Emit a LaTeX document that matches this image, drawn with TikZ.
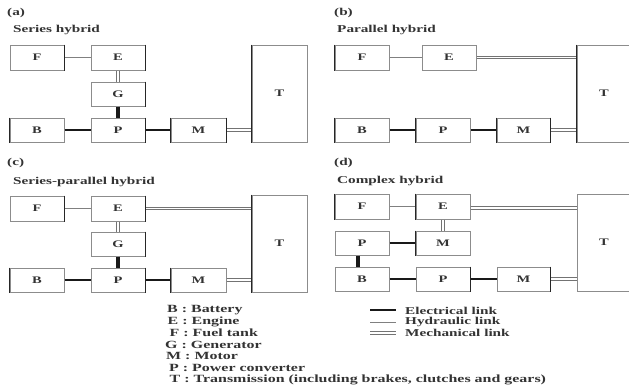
\documentclass[tikz,border=0pt]{standalone}
\usepackage{fontspec}
\setmainfont{Liberation Serif}[FakeStretch=1.5,BoldFeatures={FakeStretch=1.45}]
\begin{document}
\begin{tikzpicture}[x=1pt,y=-1pt,
  txt/.style={inner sep=0pt, text=black!80, font=\fontsize{10.5}{12}\selectfont\bfseries},
  key/.style={txt, font=\fontsize{11}{12}\selectfont\bfseries},
  box/.style={draw=black!45, line width=1pt, minimum width=54pt, minimum height=25pt, inner sep=0pt, text=black!80, font=\fontsize{10}{12}\selectfont\bfseries},
  elec/.style={line width=2.4pt, black!90},
  elecv/.style={line width=3.6pt, black!90},
  hyd/.style={line width=0.8pt, black!50},
  mechh/.style={draw=none, postaction={draw=black!55, line width=0.9pt, transform canvas={yshift=1.3pt}}, postaction={draw=black!55, line width=0.9pt, transform canvas={yshift=-1.3pt}}},
  mechv/.style={draw=none, postaction={draw=black!55, line width=0.9pt, transform canvas={xshift=1.3pt}}, postaction={draw=black!55, line width=0.9pt, transform canvas={xshift=-1.3pt}}},
  dk/.style={line width=1.8pt, black!85}]
\clip (0,0) rectangle (629,386);
\fill[white] (0,0) rectangle (629,386);
% ---------- (a)
\node[txt, anchor=west] (la) at (7,13) {(a)};
\node[txt, anchor=west] (ta) at (13,30) {Series hybrid};
\node[box] (aF) at (37,57.5) {F};
\node[box] (aE) at (118,57.5) {E};
\node[box, minimum height=24pt] (aG) at (118,94) {G};
\node[box, minimum height=24pt] (aB) at (37,130) {B};
\node[box, minimum height=24pt] (aP) at (118,130) {P};
\node[box, minimum width=55pt, minimum height=24pt] (aM) at (198.5,130) {M};
\node[box, minimum width=55pt, minimum height=97pt] (aT) at (279.5,93.5) {T};
\draw[hyd] (aF) -- (aE);
\path[mechv] (aE) -- (aG);
\draw[elecv] (aG) -- (aP);
\draw[elec] (aB) -- (aP);
\draw[elec] (aP) -- (aM);
\path[mechh] (aM.east) -- (aM.east -| aT.west);
\foreach \n/\s in {aF/east,aE/east,aG/east,aP/east,aM/east,aB/west,aM/west,aT/west}
  \draw[dk] (\n.north \s) -- (\n.south \s);
% ---------- (b)
\node[txt, anchor=west] (lb) at (334,13) {(b)};
\node[txt, anchor=west] (tb) at (337,30) {Parallel hybrid};
\node[box] (bF) at (362,57.5) {F};
\node[box] (bE) at (449,57.5) {E};
\node[box, minimum height=24pt] (bB) at (362,130) {B};
\node[box, minimum height=24pt] (bP) at (443,130) {P};
\node[box, minimum width=53pt, minimum height=24pt] (bM) at (523.5,130) {M};
\node[box, minimum height=97pt] (bT) at (604,93.5) {T};
\draw[hyd] (bF) -- (bE);
\path[mechh] (bE.east) -- (bE.east -| bT.west);
\draw[elec] (bB) -- (bP);
\draw[elec] (bP) -- (bM);
\path[mechh] (bM.east) -- (bM.east -| bT.west);
\foreach \n/\s in {bF/west,bB/west,bP/west,bM/west,bM/east,bT/west}
  \draw[dk] (\n.north \s) -- (\n.south \s);
% ---------- (c)
\node[txt, anchor=west] (lc) at (7,163) {(c)};
\node[txt, anchor=west] (tc) at (13,182) {Series-parallel hybrid};
\node[box] (cF) at (37,208.5) {F};
\node[box] (cE) at (118,208.5) {E};
\node[box, minimum height=24pt] (cG) at (118,244) {G};
\node[box, minimum height=24pt] (cB) at (37,280) {B};
\node[box, minimum height=24pt] (cP) at (118,280) {P};
\node[box, minimum width=55pt, minimum height=24pt] (cM) at (198.5,280) {M};
\node[box, minimum width=55pt, minimum height=97pt] (cT) at (279.5,243.5) {T};
\draw[hyd] (cF) -- (cE);
\path[mechv] (cE) -- (cG);
\path[mechh] (cE.east) -- (cE.east -| cT.west);
\draw[elecv] (cG) -- (cP);
\draw[elec] (cB) -- (cP);
\draw[elec] (cP) -- (cM);
\path[mechh] (cM.east) -- (cM.east -| cT.west);
\foreach \n/\s in {cF/east,cE/east,cG/east,cP/east,cB/west,cM/west,cT/west}
  \draw[dk] (\n.north \s) -- (\n.south \s);
% ---------- (d)
\node[txt, anchor=west] (ld) at (334,163) {(d)};
\node[txt, anchor=west] (td) at (337,181) {Complex hybrid};
\node[box] (dF) at (362,206.5) {F};
\node[box] (dE) at (443,206.5) {E};
\node[box, minimum height=24pt] (dPa) at (362,243) {P};
\node[box, minimum height=24pt] (dMa) at (443,243) {M};
\node[box, minimum height=24pt] (dB) at (362,279) {B};
\node[box, minimum height=24pt] (dPb) at (443,279) {P};
\node[box, minimum width=53pt, minimum height=24pt] (dMb) at (523.5,279) {M};
\node[box, minimum height=97pt] (dT) at (604,242.5) {T};
\draw[hyd] (dF) -- (dE);
\path[mechv] (dE) -- (dMa);
\path[mechh] ([yshift=-1.5pt]dE.east) -- ([yshift=-1.5pt]dE.east -| dT.west);
\draw[elec] (dPa) -- (dMa);
\draw[elecv] ([xshift=-4pt]dPa.south) -- ([xshift=-4pt]dB.north);
\draw[elec] (dB) -- (dPb);
\draw[elec] (dPb) -- (dMb);
\path[mechh] (dMb.east) -- (dMb.east -| dT.west);
\foreach \n/\s in {dF/west,dE/west,dMa/west,dPb/east,dMb/east}
  \draw[dk] (\n.north \s) -- (\n.south \s);
% ---------- legend
\node[key, anchor=west] (k1) at (167,310.5) {B : Battery};
\node[key, anchor=west] (k2) at (167.5,322) {E : Engine};
\node[key, anchor=west] (k3) at (169.5,333) {F : Fuel tank};
\node[key, anchor=west] (k4) at (165,344.5) {G : Generator};
\node[key, anchor=west] (k5) at (166,356) {M : Motor};
\node[key, anchor=west] (k6) at (169,367.5) {P : Power converter};
\node[key, anchor=west] (k7) at (169.5,379.5) {T : Transmission (including brakes, clutches and gears)};
\coordinate (e1) at (370,310); \coordinate (e2) at (396,310);
\coordinate (h1) at (370,322); \coordinate (h2) at (396,322);
\coordinate (m1) at (370,333); \coordinate (m2) at (396,333);
\draw[elec, line width=2pt] (e1) -- (e2);
\draw[hyd] (h1) -- (h2);
\path[mechh] (m1) -- (m2);
\node[txt, anchor=west] (l1) at (405,310.5) {Electrical link};
\node[txt, anchor=west] (l2) at (405,322) {Hydraulic link};
\node[txt, anchor=west] (l3) at (405,333) {Mechanical link};
\end{tikzpicture}
\end{document}
